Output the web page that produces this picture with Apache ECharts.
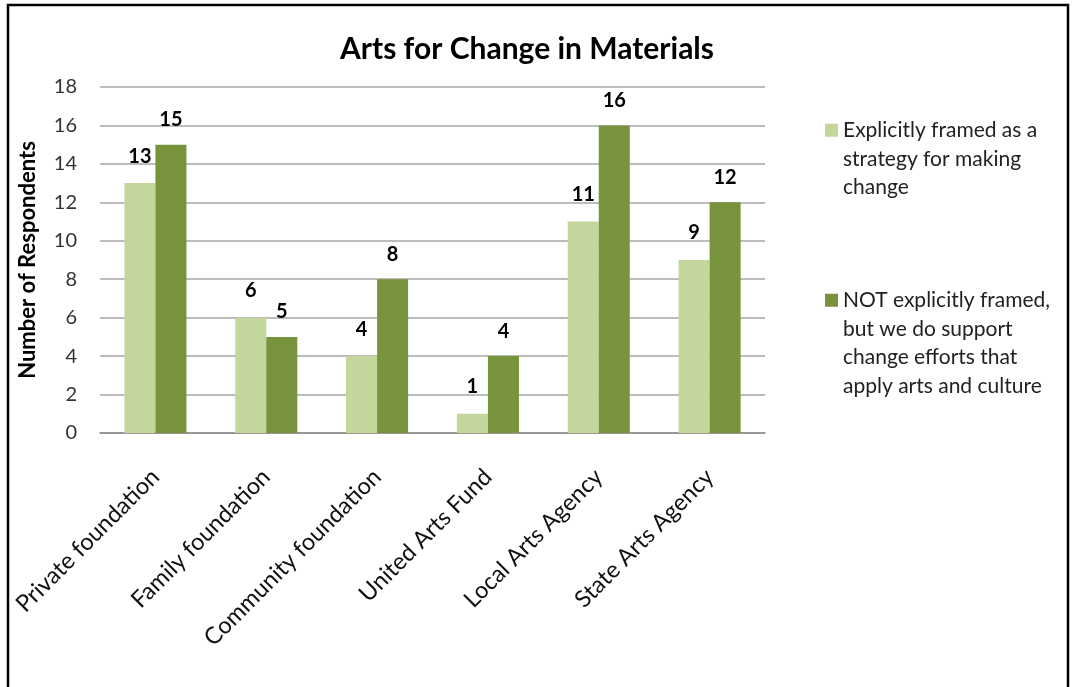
<!DOCTYPE html>
<html>
<head>
<meta charset="utf-8">
<script src="https://cdn.jsdelivr.net/npm/echarts@6/dist/echarts.min.js"></script>
<style>
  html, body { margin: 0; padding: 0; background: #fff; }
  #chart { width: 1077px; height: 687px; }
</style>
</head>
<body>
<div id="chart"></div>
<script>
// Respondent types along the x axis
const categories = [
  'Private foundation',
  'Family foundation',
  'Community foundation',
  'United Arts Fund',
  'Local Arts Agency',
  'State Arts Agency'
];
// Series names (legend text)
const seriesNames = [
  'Explicitly framed as a\nstrategy for making\nchange',
  'NOT explicitly framed,\nbut we do support\nchange efforts that\napply arts and culture'
];
// Counts per category
const explicitValues = [13, 6, 4, 1, 11, 9];
const notExplicitValues = [15, 5, 8, 4, 16, 12];
// Y axis ticks
const yTicks = [0, 2, 4, 6, 8, 10, 12, 14, 16, 18];

const FONT = 'Lato, "Open Sans", sans-serif';
const LEGEND_LINE = 28.5;

const chart = echarts.init(document.getElementById('chart'), null, { renderer: 'canvas' });

const option = {
  backgroundColor: '#ffffff',
  animation: false,
  title: {
    text: 'Arts for Change in Materials',
    left: 522,
    top: 29,
    textAlign: 'center',
    textStyle: { fontFamily: FONT, fontSize: 30, fontWeight: 'bold', color: '#000' }
  },
  graphic: [{
    type: 'polyline',
    shape: { points: [[8, 700], [8, 5], [1068, 5], [1068, 700]] },
    style: { stroke: '#000', lineWidth: 2.5, fill: null },
    silent: true
  }],
  legend: {
    orient: 'vertical',
    left: 820,
    top: 54,
    itemGap: -1,
    itemWidth: 13,
    itemHeight: 13,
    icon: 'rect',
    // leading blank lines keep each swatch level with the first text line
    formatter: function (name) {
      const lines = name.split('\n').length;
      return '\n'.repeat(lines - 1) + name;
    },
    textStyle: {
      fontFamily: FONT, fontSize: 21, color: '#222',
      lineHeight: LEGEND_LINE
    },
    data: seriesNames
  },
  grid: { left: 100, right: 312, top: 87, bottom: 254, containLabel: false },
  xAxis: {
    type: 'category',
    data: categories,
    axisLine: { show: true, lineStyle: { color: '#8c8c8c', width: 1.5 } },
    axisTick: { show: false },
    axisLabel: {
      rotate: 45,
      interval: 0,
      margin: 40,
      fontFamily: FONT, fontSize: 23.5, color: '#111'
    }
  },
  yAxis: {
    type: 'value',
    min: yTicks[0],
    max: yTicks[yTicks.length - 1],
    interval: yTicks[1] - yTicks[0],
    name: 'Number of Respondents',
    nameLocation: 'middle',
    nameGap: 61,
    nameTextStyle: { fontFamily: FONT, fontSize: 22, fontWeight: 'bold', color: '#000' },
    axisLine: { show: false },
    axisTick: { show: false },
    axisLabel: { margin: 23, fontFamily: FONT, fontSize: 20, color: '#333' },
    splitLine: { lineStyle: { color: '#a6a6a6', width: 1.5 } }
  },
  series: [
    {
      name: seriesNames[0],
      type: 'bar',
      data: explicitValues,
      barGap: '0%',
      barCategoryGap: '44%',
      itemStyle: { color: '#C3D69B' },
      label: {
        show: true, position: 'top', distance: 17,
        fontFamily: FONT, fontSize: 20, fontWeight: 'bold', color: '#000'
      }
    },
    {
      name: seriesNames[1],
      type: 'bar',
      data: notExplicitValues,
      itemStyle: { color: '#77933C' },
      label: {
        show: true, position: 'top', distance: 15,
        fontFamily: FONT, fontSize: 20, fontWeight: 'bold', color: '#000'
      }
    }
  ]
};

chart.setOption(option);
</script>
</body>
</html>
